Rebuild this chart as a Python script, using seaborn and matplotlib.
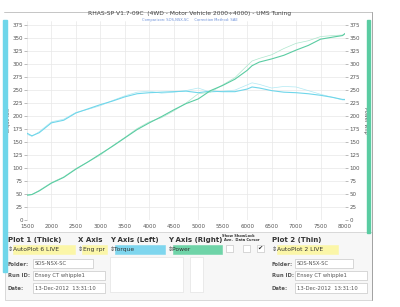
import numpy as np
import pandas as pd
import matplotlib.pyplot as plt
import matplotlib.patches as mpatches
import seaborn as sns

sns.set_style("white")
plt.rcParams['font.family'] = ['DejaVu Sans']

# 데이터
rpm = [1500, 1600, 1750, 2000, 2250, 2500, 2750, 3000, 3250, 3500, 3750, 4000, 4250, 4500,
       4750, 5000, 5250, 5500, 5750, 6000, 6100, 6250, 6500, 6750, 7000, 7250, 7500, 7750,
       7950, 8000]
torque_thick = [167, 162, 168, 187, 192, 206, 214, 222, 229, 237, 243, 245, 246, 247,
                248, 245, 248, 247, 247, 252, 256, 254, 249, 246, 245, 243, 240, 236,
                232, 232]
torque_thin = [165, 161, 170, 189, 194, 207, 213, 220, 230, 239, 246, 248, 244, 246,
               249, 254, 246, 248, 250, 260, 264, 261, 254, 257, 256, 249, 242, 236,
               231, 231]
power_thick = [48, 49, 56, 71, 82, 98, 112, 127, 142, 158, 174, 187, 199, 212,
               224, 233, 249, 259, 271, 288, 297, 304, 310, 317, 327, 336, 348, 352,
               355, 359]
power_thin = [47, 49, 57, 72, 83, 99, 112, 125, 143, 159, 176, 189, 197, 210,
              225, 243, 246, 260, 274, 297, 306, 311, 318, 330, 340, 345, 353, 355,
              356, 357]

x_ticks = list(range(1500, 8001, 500))
y_ticks = list(range(0, 376, 25))

df = pd.DataFrame({'rpm': rpm, 'tq1': torque_thick, 'tq2': torque_thin,
                   'pw1': power_thick, 'pw2': power_thin})

W, H = 400, 307
fig = plt.figure(figsize=(W / 100, H / 100), dpi=100)
fig.patch.set_facecolor('white')


def fx(x):
    return x / W


def fy(y):
    return 1 - y / H


# 메인 그래프
ax = fig.add_axes([fx(27), fy(220), fx(345) - fx(27), fy(21) - fy(220)])
ax2 = ax.twinx()

sns.lineplot(data=df, x='rpm', y='tq2', ax=ax, color='#b0e9f3', linewidth=0.5)
sns.lineplot(data=df, x='rpm', y='tq1', ax=ax, color='#6fd6ea', linewidth=0.8)
sns.lineplot(data=df, x='rpm', y='pw2', ax=ax2, color='#ade6cd', linewidth=0.5)
sns.lineplot(data=df, x='rpm', y='pw1', ax=ax2, color='#5acca2', linewidth=0.8)

for a in (ax, ax2):
    a.set_xlim(1500, 8000)
    a.set_ylim(0, 383)
    a.set_yticks(y_ticks)
    for s in a.spines.values():
        s.set_visible(False)
ax.set_xticks(x_ticks)
ax.set_xticklabels([str(t) for t in x_ticks], fontsize=4, color='#555555')
ax.set_yticklabels([str(t) for t in y_ticks], fontsize=4, color='#555555')
ax2.set_yticklabels([str(t) for t in y_ticks], fontsize=4, color='#555555')
ax.tick_params(axis='both', length=2, width=0.4, color='#888888', pad=1)
ax2.tick_params(axis='y', length=2, width=0.4, color='#888888', pad=1)
ax.grid(True, color='#e8e8e8', linewidth=0.5)
ax.set_xlabel('')
ax.set_ylabel('Torque lbft', fontsize=3.5, color='#555555')
ax.yaxis.set_label_coords(-0.05, 0.5)
ax2.set_ylabel('Power whp', fontsize=3.5, color='#555555', rotation=270, va='center')
ax2.yaxis.set_label_coords(1.064, 0.5)

# 제목
fig.text(fx(190), fy(14), 'RHAS-SP V1.7-09C  (4WD - Motor Vehicle 2000\u00f74000) - UMS Tuning',
         fontsize=4.3, color='#444444', ha='center', va='center')
fig.text(fx(190), fy(20), 'Comparison: SOS-NSX-SC     Correction Method: SAE',
         fontsize=2.6, color='#6a8fd8', ha='center', va='center')

# 테두리 / 컬러 바
fig.add_artist(plt.Line2D([fx(4), fx(372)], [fy(12), fy(12)], color='#bbbbbb', lw=0.6))
fig.add_artist(plt.Line2D([fx(372), fx(372)], [fy(12), fy(300)], color='#999999', lw=0.6))
fig.add_artist(mpatches.Rectangle((fx(3), fy(272)), fx(3.5), fy(20) - fy(272),
                                  color='#6fd6ea', transform=fig.transFigure))
fig.add_artist(mpatches.Rectangle((fx(367), fy(233)), fx(3), fy(20) - fy(233),
                                  color='#5acca2', transform=fig.transFigure))

# 하단 패널
fig.add_artist(mpatches.Rectangle((fx(5), fy(300)), fx(367), fy(232) - fy(300),
                                  facecolor='#f7f7f7', edgecolor='#cccccc', lw=0.5,
                                  transform=fig.transFigure, zorder=0))


def box(x0, y0, x1, y1, fc, ec='#bbbbbb'):
    fig.add_artist(mpatches.Rectangle((fx(x0), fy(y1)), fx(x1 - x0), fy(y0) - fy(y1),
                                      facecolor=fc, edgecolor=ec, lw=0.4,
                                      transform=fig.transFigure))


def txt(x, y, s, size=4, weight='normal', color='#333333'):
    fig.text(fx(x), fy(y), s, fontsize=size, fontweight=weight, color=color,
             ha='left', va='center')


txt(8, 240, 'Plot 1 (Thick)', 5, 'bold')
txt(78, 240, 'X Axis', 5, 'bold')
txt(110, 240, 'Y Axis (Left)', 5, 'bold')
txt(168, 240, 'Y Axis (Right)', 5, 'bold')
txt(222, 236, 'Show ShowLock', 2.6, 'bold')
txt(224, 240, 'Ave.  Data Cursor', 2.6, 'bold')
txt(272, 240, 'Plot 2 (Thin)', 5, 'bold')

box(13, 245, 75, 254, '#fbf6a8', '#fbf6a8')
txt(8, 249.5, '\u21d5AutoPlot 6 LIVE', 4.3)
box(82, 245, 107, 254, '#fbf6a8', '#fbf6a8')
txt(78, 249.5, '\u21d5Eng rpr', 4.3)
box(115, 245, 165, 254, '#7fd6ee', '#7fd6ee')
txt(110, 249.5, '\u21d5Torque', 4.3)
box(173, 245, 222, 254, '#6fd4a8', '#6fd4a8')
txt(168, 249.5, '\u21d5Power', 4.3)
box(226, 245, 233, 252, 'white')
box(243, 245, 250, 252, 'white')
box(257, 245, 264, 252, 'white')
txt(257.5, 248.5, '\u2714', 4.5, color='#222222')
box(277, 245, 338, 254, '#fbf6a8', '#fbf6a8')
txt(272, 249.5, '\u21d5AutoPlot 2 LIVE', 4.3)

txt(8, 264, 'Folder:', 3.8, 'bold', '#555555')
box(33, 259, 93, 268, 'white')
txt(35, 263.5, 'SOS-NSX-SC', 3.8, color='#555555')
txt(8, 275.5, 'Run ID:', 3.8, 'bold', '#555555')
box(33, 271, 105, 280, 'white')
txt(35, 275.5, 'Ensey CT whipple1', 3.8, color='#555555')
txt(8, 288, 'Date:', 3.8, 'bold', '#555555')
box(33, 283, 105, 293, 'white')
txt(35, 288, '13-Dec-2012  13:31:10', 3.8, color='#555555')

box(110, 257, 183, 292, 'white', '#dddddd')
box(190, 257, 203, 292, 'white', '#dddddd')

txt(272, 264, 'Folder:', 3.8, 'bold', '#555555')
box(295, 259, 353, 268, 'white')
txt(297, 263.5, 'SOS-NSX-SC', 3.8, color='#555555')
txt(272, 275.5, 'Run ID:', 3.8, 'bold', '#555555')
box(295, 271, 367, 280, 'white')
txt(297, 275.5, 'Ensey CT whipple1', 3.8, color='#555555')
txt(272, 288, 'Date:', 3.8, 'bold', '#555555')
box(295, 283, 367, 293, 'white')
txt(297, 288, '13-Dec-2012  13:31:10', 3.8, color='#555555')

fig.savefig('out.png', dpi=100, facecolor='white')
